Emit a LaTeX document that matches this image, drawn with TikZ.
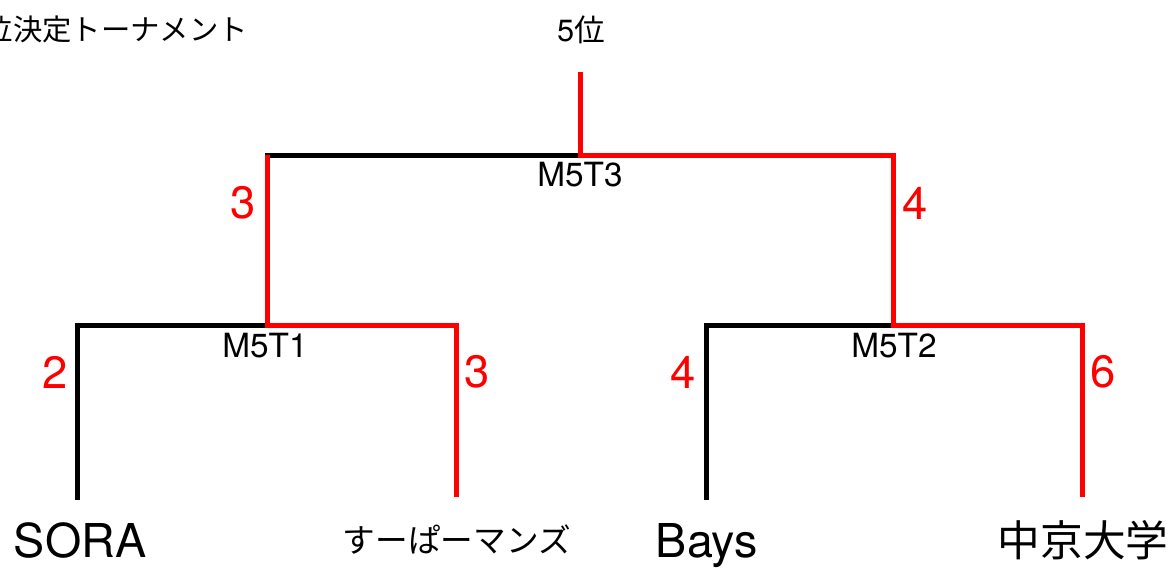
\documentclass[tikz,border=0pt]{standalone}
\usepackage{fontspec}
\setmainfont{TeX Gyre Heros}
\newfontfamily\jp{Noto Sans CJK JP}
\begin{document}
\begin{tikzpicture}[x=0.75pt,y=-0.75pt,
  win/.style={draw=red,line width=3.75pt},
  lose/.style={draw=black,line width=3.75pt,line cap=rect},
  score/.style={text=red,font=\fontsize{34}{34}\selectfont,inner sep=0pt},
  match/.style={font=\fontsize{25}{25}\selectfont,inner sep=0pt},
  team/.style={font=\fontsize{35}{35}\selectfont,inner sep=0pt,anchor=base}]
\path[use as bounding box,clip] (0,0) rectangle (1169,567);
% coordinates
\coordinate (top) at (580,72);
\coordinate (m3) at (580,155);
\coordinate (m3l) at (267,155);
\coordinate (m3r) at (893,155);
\coordinate (m1) at (267,325);
\coordinate (m1l) at (77,325);
\coordinate (m1r) at (456,325);
\coordinate (m2) at (893,325);
\coordinate (m2l) at (706,325);
\coordinate (m2r) at (1082,325);
\coordinate (t1) at (77,497);
\coordinate (t2) at (456,497);
\coordinate (t3) at (706,497);
\coordinate (t4) at (1082,497);
% losing lines
\draw[lose] (m3l) -- (m3);
\draw[lose] (t1) -- (m1l) -- (m1);
\draw[lose] (t3) -- (m2l) -- (m2);
% winning lines
\draw[win] (top) -- (m3) -- (m3r) -- (m2) -- (m2r) -- (t4);
\draw[win] (m3l) -- (m1) -- (m1r) -- (t2);
% texts
\node[anchor=east,inner sep=0pt,font=\jp\fontsize{22}{22}\selectfont] (title) at (248,29) {5位決定トーナメント};
\node[inner sep=0pt,font=\fontsize{23}{23}\selectfont] (rank) at (581,30) {5{\jp 位}};
\node[match] (l3) at (580,175) {M5T3};
\node[match] (l1) at (265,346) {M5T1};
\node[match] (l2) at (894,346) {M5T2};
\node[score] (s3a) at (243,203) {3};
\node[score] (s3b) at (915,203) {4};
\node[score] (s1a) at (55,372) {2};
\node[score] (s1b) at (477,372) {3};
\node[score] (s2a) at (683,372) {4};
\node[score] (s2b) at (1103,372) {6};
\node[team] (n1) at (80,557) {SORA};
\node[inner sep=0pt,font=\jp\fontsize{24.5}{24.5}\selectfont] (n2) at (457,540) {すーぱーマンズ};
\node[team] (n3) at (707,557) {Bays};
\node[inner sep=0pt,font=\jp\fontsize{32}{32}\selectfont] (n4) at (1083,540) {中京大学};
\end{tikzpicture}
\end{document}
